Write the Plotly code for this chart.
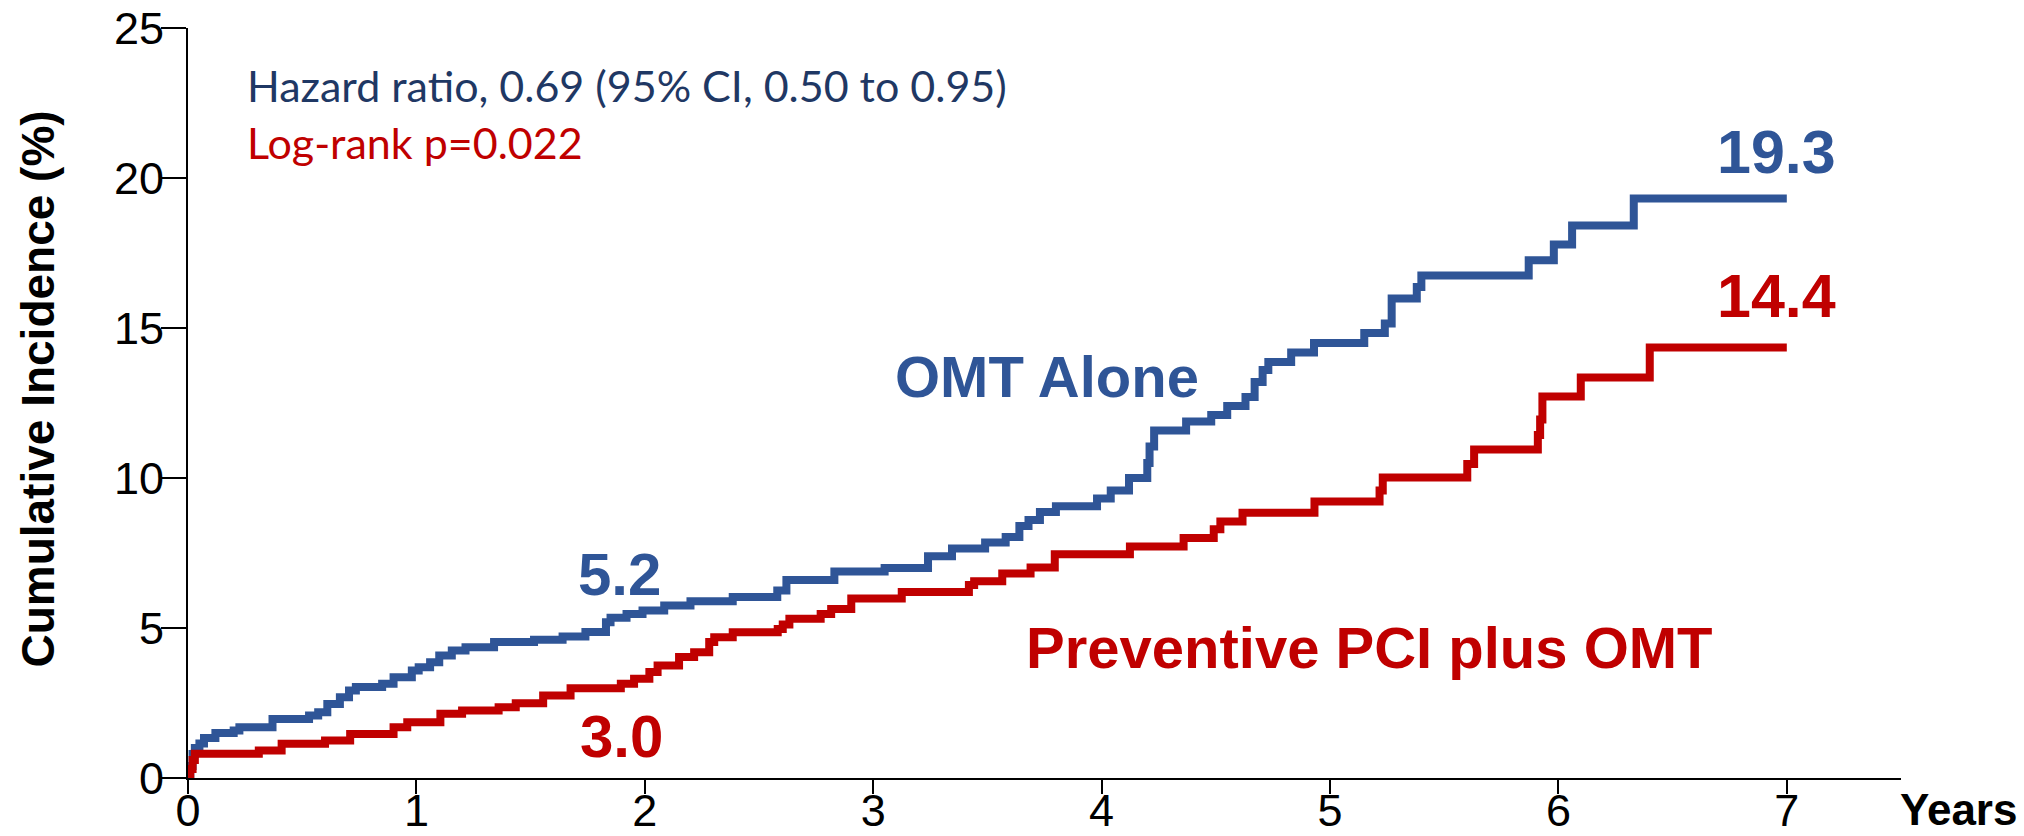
import plotly.graph_objects as go

# ---- data ----
omt_t = [0, 0.01, 0.02, 0.03, 0.05, 0.07, 0.12, 0.20, 0.225, 0.37, 0.53, 0.57,
         0.61, 0.665, 0.705, 0.735, 0.85, 0.90, 0.98, 1.01, 1.06, 1.10, 1.155, 1.215,
         1.34, 1.515, 1.64, 1.74, 1.83, 1.85, 1.92, 1.99, 2.085, 2.20, 2.385, 2.58,
         2.62, 2.83, 3.05, 3.24, 3.345, 3.49, 3.58, 3.64, 3.68, 3.73, 3.80, 3.98,
         4.04, 4.12, 4.20, 4.21, 4.23, 4.37, 4.48, 4.55, 4.63, 4.67, 4.705, 4.73,
         4.83, 4.93, 5.15, 5.24, 5.27, 5.38, 5.40, 5.87, 5.98, 6.06, 6.33, 7.0]
omt_v = [0, 0.4, 0.8, 1.0, 1.15, 1.33, 1.5, 1.58, 1.69, 1.97, 2.08, 2.19,
         2.47, 2.69, 2.92, 3.03, 3.14, 3.36, 3.58, 3.69, 3.86, 4.08, 4.25, 4.36,
         4.53, 4.61, 4.72, 4.87, 5.19, 5.34, 5.47, 5.58, 5.75, 5.89, 6.03, 6.25,
         6.6, 6.88, 7.0, 7.39, 7.65, 7.85, 8.03, 8.4, 8.6, 8.87, 9.06, 9.32,
         9.58, 10.0, 10.5, 11.05, 11.58, 11.88, 12.1, 12.4, 12.7, 13.2, 13.6, 13.87,
         14.18, 14.5, 14.83, 15.15, 15.98, 16.37, 16.75, 17.26, 17.78, 18.42, 19.32, 19.32]

pci_t = [0, 0.01, 0.02, 0.03, 0.31, 0.41, 0.60, 0.71, 0.90, 0.96,
         1.105, 1.20, 1.36, 1.435, 1.555, 1.675, 1.895, 1.953, 2.02, 2.056, 2.15, 2.216,
         2.282, 2.304, 2.385, 2.582, 2.604, 2.633, 2.77, 2.816, 2.904, 3.125, 3.419, 3.442,
         3.565, 3.689, 3.795, 4.124, 4.359, 4.491, 4.52, 4.617, 4.932, 5.217, 5.231, 5.601,
         5.631, 5.91, 5.92, 5.93, 6.098, 6.40, 7.0]
pci_v = [0, 0.3, 0.6, 0.81, 0.92, 1.14, 1.25, 1.47, 1.69, 1.86,
         2.14, 2.25, 2.36, 2.49, 2.75, 2.99, 3.14, 3.31, 3.53, 3.75, 4.03, 4.19,
         4.53, 4.69, 4.86, 4.97, 5.12, 5.31, 5.47, 5.63, 5.98, 6.2, 6.43, 6.56,
         6.82, 7.02, 7.46, 7.72, 8.0, 8.29, 8.55, 8.84, 9.22, 9.58, 10.02, 10.47,
         10.95, 11.43, 11.95, 12.72, 13.35, 14.35, 14.35]

x_ticks = [0, 1, 2, 3, 4, 5, 6, 7]
y_ticks = [0, 5, 10, 15, 20, 25]

BLUE = "#2F5597"
RED = "#C00000"
NAVY = "#1F3864"
ARIAL = "Liberation Sans, Arial, sans-serif"

fig = go.Figure()
fig.add_trace(go.Scatter(x=omt_t, y=omt_v, mode="lines", line_shape="hv",
                         line=dict(color=BLUE, width=8), name="OMT Alone"))
fig.add_trace(go.Scatter(x=pci_t, y=pci_v, mode="lines", line_shape="hv",
                         line=dict(color=RED, width=8), name="Preventive PCI plus OMT"))

ann = []
def add(text, x, y, size, color, bold=True, family=ARIAL, xanchor="center", angle=0,
        xref="x", yref="y"):
    ann.append(dict(text=("<b>%s</b>" % text) if bold else text, x=x, y=y,
                    xref=xref, yref=yref, showarrow=False, xanchor=xanchor, yanchor="middle",
                    textangle=angle, borderpad=0,
                    font=dict(size=size, color=color, family=family)))

add("Hazard ratio, 0.69 (95% CI, 0.50 to 0.95)", 0.254, 23.1, 43, NAVY, bold=False,
    family="Lato, Open Sans, sans-serif", xanchor="left")
add("Log-rank p=0.022", 0.254, 21.17, 43, RED, bold=False,
    family="Lato, Open Sans, sans-serif", xanchor="left")
add("OMT Alone", 3.759, 13.4, 58, BLUE)
add("Preventive PCI plus OMT", 5.171, 4.35, 58, RED)
add("5.2", 1.89, 6.77, 60, BLUE)
add("3.0", 1.897, 1.4, 60, RED)
add("19.3", 6.954, 20.87, 61, BLUE)
add("14.4", 6.954, 16.07, 61, RED)
add("Years", 1.0683, -0.042, 44, "black", xref="paper", yref="paper", xanchor="right")
add("Cumulative Incidence (%)", -0.0881, 0.518, 46, "black", angle=-90,
    xref="paper", yref="paper")

fig.update_layout(
    width=2024, height=836,
    margin=dict(l=188, r=123, t=28, b=58),
    paper_bgcolor="white", plot_bgcolor="white",
    showlegend=False,
    annotations=ann,
    xaxis=dict(range=[0, 7.5], tickvals=x_ticks, ticktext=[str(v) for v in x_ticks],
               automargin=False, ticklabelstandoff=-22,
               showline=True, linecolor="black", linewidth=2,
               ticks="outside", ticklen=14, tickwidth=2, tickcolor="black",
               showgrid=False, zeroline=False,
               tickfont=dict(size=45, color="black", family=ARIAL)),
    yaxis=dict(range=[0, 25], tickvals=y_ticks, ticktext=[str(v) for v in y_ticks],
               automargin=False, ticklabelstandoff=-12,
               showline=True, linecolor="black", linewidth=2,
               ticks="outside", ticklen=25, tickwidth=2, tickcolor="black",
               showgrid=False, zeroline=False,
               tickfont=dict(size=45, color="black", family=ARIAL)),
)

fig.write_html("out.html")
